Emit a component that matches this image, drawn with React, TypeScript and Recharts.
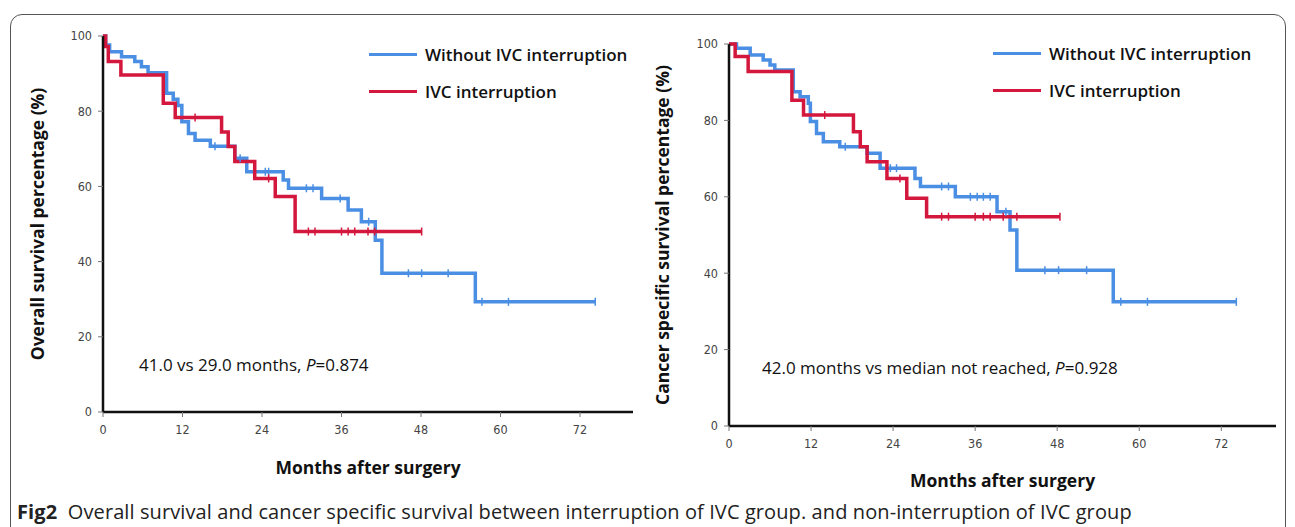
import React from 'react';
import { ComposedChart, Line, Scatter, XAxis, YAxis, Legend } from 'recharts';

const monthTicks = [0, 12, 24, 36, 48, 60, 72];
const pctTicks = [0, 20, 40, 60, 80, 100];
const seriesNames = ['Without IVC interruption', 'IVC interruption'];

// Overall survival: step points [month, survival %]
const osWithout = [
  [0, 100], [0.4, 97.6], [1.0, 95.8], [2.8, 94.5], [4.8, 93.2], [5.8, 91.8], [6.8, 90.2],
  [9.6, 84.8], [10.6, 83.2], [11.3, 81.5], [11.9, 77.2], [12.9, 74.1], [13.9, 72.3],
  [16.2, 70.7], [19.9, 67.5], [21.7, 63.9], [27.2, 61.7], [28.0, 59.5], [33.0, 56.8],
  [37.0, 53.7], [39.0, 50.6], [41.1, 45.7], [42.1, 36.9], [56.2, 29.3], [74.3, 29.3],
];
const osWithoutCens = [
  [16.9, 70.7], [20.7, 67.5], [24.5, 63.9], [25.0, 63.9], [30.7, 59.5], [31.7, 59.5],
  [35.8, 56.8], [40.1, 50.6], [46.1, 36.9], [48.1, 36.9], [52.1, 36.9], [57.2, 29.3],
  [61.2, 29.3], [74.3, 29.3],
];
const osIvc = [
  [0, 100], [0.4, 97.2], [0.8, 93.2], [2.7, 89.6], [9.1, 82.1], [10.9, 78.3], [17.9, 74.5],
  [18.9, 70.6], [19.9, 66.6], [22.9, 62.1], [26.0, 57.3], [29.0, 48.0], [48.1, 48.0],
];
const osIvcCens = [
  [13.9, 78.3], [25.0, 62.1], [31.0, 48.0], [32.0, 48.0], [36.0, 48.0], [37.0, 48.0],
  [38.0, 48.0], [40.0, 48.0], [41.0, 48.0], [48.1, 48.0],
];

// Cancer specific survival
const cssWithout = [
  [0, 100], [1.1, 98.9], [3.1, 97.1], [5.0, 95.8], [6.0, 94.5], [6.7, 93.2], [9.4, 87.5],
  [10.4, 86.2], [11.6, 84.5], [11.9, 79.7], [12.8, 76.6], [13.8, 74.4], [16.2, 73.1],
  [20.2, 71.4], [22.1, 67.5], [27.2, 64.8], [28.0, 62.7], [33.1, 60.0], [39.2, 56.1],
  [41.1, 51.3], [42.1, 40.8], [56.2, 32.5], [74.2, 32.5],
];
const cssWithoutCens = [
  [17.0, 73.1], [23.6, 67.5], [24.5, 67.5], [31.1, 62.7], [32.1, 62.7], [35.3, 60.0],
  [36.3, 60.0], [37.2, 60.0], [38.2, 60.0], [40.5, 56.1], [46.2, 40.8], [48.2, 40.8],
  [52.3, 40.8], [57.3, 32.5], [61.2, 32.5], [74.2, 32.5],
];
const cssIvc = [
  [0, 100], [0.9, 96.7], [2.8, 92.8], [9.2, 85.3], [10.9, 81.4], [18.2, 77.0], [19.2, 73.1],
  [20.2, 69.2], [23.1, 64.8], [26.0, 59.6], [28.9, 54.8], [48.4, 54.8],
];
const cssIvcCens = [
  [14.0, 81.4], [25.0, 64.8], [31.1, 54.8], [32.1, 54.8], [36.0, 54.8], [37.2, 54.8],
  [38.2, 54.8], [40.1, 54.8], [42.1, 54.8], [48.4, 54.8],
];

const BLUE = '#4a8fe3';
const RED = '#d3173d';
const SANS = "'Open Sans', 'Noto Sans', sans-serif";
const NARROW = "'Liberation Sans Narrow', 'DejaVu Sans Condensed', 'Liberation Sans', sans-serif";

const toPts = (arr: number[][]) => arr.map(([m, s]) => ({ m, s }));

const CensorTick = (props: any) => {
  const { cx, cy, fill } = props;
  if (cx == null || cy == null) return null;
  return <line x1={cx} x2={cx} y1={cy - 4} y2={cy + 4} stroke={fill} strokeWidth={1.5} />;
};

// zero-height box so the legend does not shrink the plot area
const KmLegend = () => (
  <div style={{ height: 0, overflow: 'visible' }}>
    <div style={{ fontFamily: SANS, fontSize: 17, fontWeight: 600, color: '#111' }}>
      {seriesNames.map((name, i) => (
        <div key={name} style={{ display: 'flex', alignItems: 'center', height: 37 }}>
          <div style={{ width: 48, height: 3, background: i === 0 ? BLUE : RED }} />
          <span style={{ marginLeft: 8 }}>{name}</span>
        </div>
      ))}
    </div>
  </div>
);

interface KmProps {
  left: number;
  width: number;
  height: number;
  margin: { top: number; right: number; bottom: number; left: number };
  yWidth: number;
  xHeight: number;
  yLabel: string;
  yLabelOffset: number;
  xLabelOffset: number;
  legendPos: { top: number; left: number };
  without: number[][];
  withoutCens: number[][];
  ivc: number[][];
  ivcCens: number[][];
}

const KmChart: React.FC<KmProps> = (p) => (
  <div style={{ position: 'absolute', left: p.left, top: 0 }}>
    <ComposedChart width={p.width} height={p.height} margin={p.margin}>
      <XAxis
        dataKey="m"
        type="number"
        domain={[0, 80]}
        ticks={monthTicks}
        allowDataOverflow
        height={p.xHeight}
        axisLine={{ stroke: '#111', strokeWidth: 2.5 }}
        tickLine={{ stroke: '#777' }}
        tickSize={5}
        tickMargin={8}
        tick={{ fill: '#444', fontSize: 12.5, fontFamily: NARROW }}
        label={{
          value: 'Months after surgery',
          position: 'insideBottom',
          offset: p.xLabelOffset,
          style: { fill: '#111', fontSize: 17.5, fontWeight: 700, fontFamily: SANS },
        }}
      />
      <YAxis
        type="number"
        domain={[0, 100]}
        ticks={pctTicks}
        width={p.yWidth}
        axisLine={{ stroke: '#111', strokeWidth: 2.5 }}
        tickLine={{ stroke: '#777' }}
        tickSize={5}
        tickMargin={6}
        tick={{ fill: '#444', fontSize: 12.5, fontFamily: NARROW }}
        label={{
          value: p.yLabel,
          angle: -90,
          position: 'insideLeft',
          offset: p.yLabelOffset,
          style: { textAnchor: 'middle', fill: '#111', fontSize: 17.5, fontWeight: 700, fontFamily: SANS },
        }}
      />
      <Legend content={<KmLegend />} wrapperStyle={{ position: 'absolute', top: p.legendPos.top, left: p.legendPos.left, width: 300 }} />
      <Line data={toPts(p.without)} dataKey="s" type="stepAfter" stroke={BLUE} strokeWidth={3.5} dot={false} isAnimationActive={false} legendType="none" />
      <Scatter data={toPts(p.withoutCens)} dataKey="s" fill={BLUE} shape={CensorTick} isAnimationActive={false} legendType="none" />
      <Line data={toPts(p.ivc)} dataKey="s" type="stepAfter" stroke={RED} strokeWidth={3.5} dot={false} isAnimationActive={false} legendType="none" />
      <Scatter data={toPts(p.ivcCens)} dataKey="s" fill={RED} shape={CensorTick} isAnimationActive={false} legendType="none" />
    </ComposedChart>
  </div>
);

const noteStyle: React.CSSProperties = {
  position: 'absolute',
  fontFamily: SANS,
  fontSize: 17,
  fontWeight: 500,
  color: '#111',
  whiteSpace: 'nowrap',
};

export default function App() {
  return (
    <div style={{ position: 'fixed', left: 0, top: 0, width: 1295, height: 527, background: '#fff', overflow: 'hidden' }}>
      <div
        style={{
          position: 'absolute', left: 10, top: 14, width: 1274, height: 600,
          border: '1px solid #555', borderRadius: 12,
        }}
      />
      <KmChart
        left={0}
        width={650}
        height={527}
        margin={{ top: 36, right: 17, bottom: 49, left: 0 }}
        yWidth={103}
        xHeight={66}
        yLabel="Overall  survival percentage (%)"
        yLabelOffset={38}
        xLabelOffset={4}
        legendPos={{ top: 36, left: 369 }}
        without={osWithout}
        withoutCens={osWithoutCens}
        ivc={osIvc}
        ivcCens={osIvcCens}
      />
      <KmChart
        left={650}
        width={645}
        height={527}
        margin={{ top: 44, right: 19, bottom: 37, left: 0 }}
        yWidth={79}
        xHeight={64}
        yLabel="Cancer specific  survival percentage (%)"
        yLabelOffset={13}
        xLabelOffset={3}
        legendPos={{ top: 35, left: 343 }}
        without={cssWithout}
        withoutCens={cssWithoutCens}
        ivc={cssIvc}
        ivcCens={cssIvcCens}
      />
      <div style={{ ...noteStyle, left: 139, top: 353 }}>
        41.0 vs 29.0 months, <i>P</i>=0.874
      </div>
      <div style={{ ...noteStyle, left: 762, top: 356 }}>
        42.0 months vs median not reached, <i>P</i>=0.928
      </div>
      <div
        style={{
          position: 'absolute', left: 17, top: 498, fontFamily: SANS, fontSize: 20,
          color: '#222', whiteSpace: 'nowrap', letterSpacing: 0.1,
        }}
      >
        <b>Fig2</b>&nbsp; Overall survival and cancer specific survival between interruption of IVC group. and non-interruption of IVC group
      </div>
    </div>
  );
}
